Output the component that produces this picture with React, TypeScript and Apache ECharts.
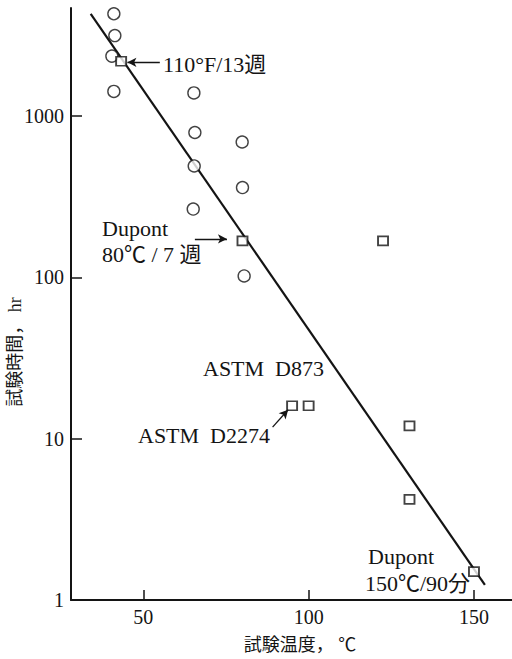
import React, { useEffect, useRef } from "react";
import * as echarts from "echarts";

// Test temperature (°C) vs. test duration (hr)
const circleTemps = [41.1, 41.4, 40.5, 41.1, 65.3, 65.6, 79.9, 65.4, 80.0, 65.1, 80.5];
const circleHours = [4300, 3150, 2350, 1420, 1390, 790, 690, 490, 360, 265, 102];

const squareTemps = [43.3, 80, 95, 100, 122.5, 130.5, 130.5, 150];
const squareHours = [2184, 168, 16, 16, 168, 12, 4.2, 1.5];

// Trend line end points
const fitTemps = [34.1, 153.3];
const fitHours = [4290, 1.24];

const xTicks = [50, 100, 150];
const yTicks = [1, 10, 100, 1000];

// Annotation arrows: [fromTemp, fromHours, toTemp, toHours]
const arrows: [number, number, number, number][] = [
  [55.0, 2150, 45.2, 2150],
  [65.6, 173, 75.3, 173],
  [89.1, 11.8, 93.8, 15.1],
];

const SERIF = "Liberation Serif, Times New Roman, Noto Sans CJK JP, serif";
const INK = "#141414";

export default function App() {
  const ref = useRef<HTMLDivElement>(null);

  useEffect(() => {
    if (!ref.current) return;
    const chart = echarts.init(ref.current, undefined, { renderer: "svg" });

    const zip = (xs: number[], ys: number[]) => xs.map((x, i) => [x, ys[i]]);

    const text = (s: string, x: number, y: number, size = 22) => ({
      type: "text",
      x,
      y,
      style: {
        text: s,
        fontSize: size,
        fontFamily: SERIF,
        fill: INK,
        align: "left",
        verticalAlign: "middle",
      },
    });

    chart.setOption({
      animation: false,
      backgroundColor: "#ffffff",
      grid: { left: 71, right: 0, top: 8, bottom: 59, containLabel: false, outerBoundsMode: "none" },
      xAxis: {
        type: "value",
        min: 28.14,
        max: 161.5,
        axisLine: { show: true, lineStyle: { color: INK, width: 2 } },
        axisTick: { show: true, inside: true, length: 10, customValues: xTicks, lineStyle: { color: INK, width: 1.5 } },
        axisLabel: {
          customValues: xTicks,
          fontSize: 20,
          fontFamily: SERIF,
          color: INK,
          margin: 7,
          formatter: (v: number) => String(Math.round(v)),
        },
        splitLine: { show: false },
      },
      yAxis: {
        type: "log",
        logBase: 10,
        min: 1,
        max: 4670,
        axisLine: { show: true, lineStyle: { color: INK, width: 2 } },
        axisTick: { show: true, inside: true, length: 11, customValues: yTicks, lineStyle: { color: INK, width: 1.5 } },
        axisLabel: {
          customValues: yTicks,
          fontSize: 20,
          fontFamily: SERIF,
          color: INK,
          margin: 7,
          formatter: (v: number) => String(Math.round(v)),
        },
        splitLine: { show: false },
        minorTick: { show: false },
      },
      graphic: [
        {
          type: "text",
          x: 15,
          y: 352,
          rotation: Math.PI / 2,
          style: {
            text: "試験時間， hr",
            fontSize: 18,
            fontFamily: SERIF,
            fill: INK,
            align: "center",
            verticalAlign: "middle",
          },
        },
        {
          type: "text",
          x: 300,
          y: 645,
          style: {
            text: "試験温度， ℃",
            fontSize: 18,
            fontFamily: SERIF,
            fill: INK,
            align: "center",
            verticalAlign: "middle",
          },
        },
        text("110°F/13週", 163, 64),
        text("Dupont", 102, 228),
        text("80℃ / 7 週", 102, 254),
        text("ASTM  D873", 203, 368),
        text("ASTM  D2274", 138, 435),
        text("Dupont", 368, 556),
        text("150℃/90分", 365, 583),
      ],
      series: [
        {
          type: "line",
          data: zip(fitTemps, fitHours),
          symbol: "none",
          lineStyle: { color: INK, width: 2.2 },
          z: 2,
          silent: true,
        },
        {
          type: "scatter",
          data: [],
          silent: true,
          markLine: {
            silent: true,
            symbol: ["none", "arrow"],
            symbolSize: [7, 9],
            label: { show: false },
            lineStyle: { color: INK, width: 1.3, type: "solid" },
            data: arrows.map(([x1, y1, x2, y2]) => [{ coord: [x1, y1] }, { coord: [x2, y2] }]),
          },
        },
        {
          type: "scatter",
          data: zip(circleTemps, circleHours),
          symbol: "circle",
          symbolSize: 12,
          itemStyle: { color: "#ffffff", borderColor: INK, borderWidth: 1.4 },
          z: 3,
          silent: true,
        },
        {
          type: "scatter",
          data: zip(squareTemps, squareHours),
          symbol: "rect",
          symbolSize: [10, 9],
          itemStyle: { color: "#ffffff", borderColor: INK, borderWidth: 1.8 },
          z: 3,
          silent: true,
        },
      ],
    });

    return () => chart.dispose();
  }, []);

  return (
    <div
      ref={ref}
      style={{ position: "fixed", left: 0, top: 0, width: 512, height: 659, background: "#fff" }}
    />
  );
}
